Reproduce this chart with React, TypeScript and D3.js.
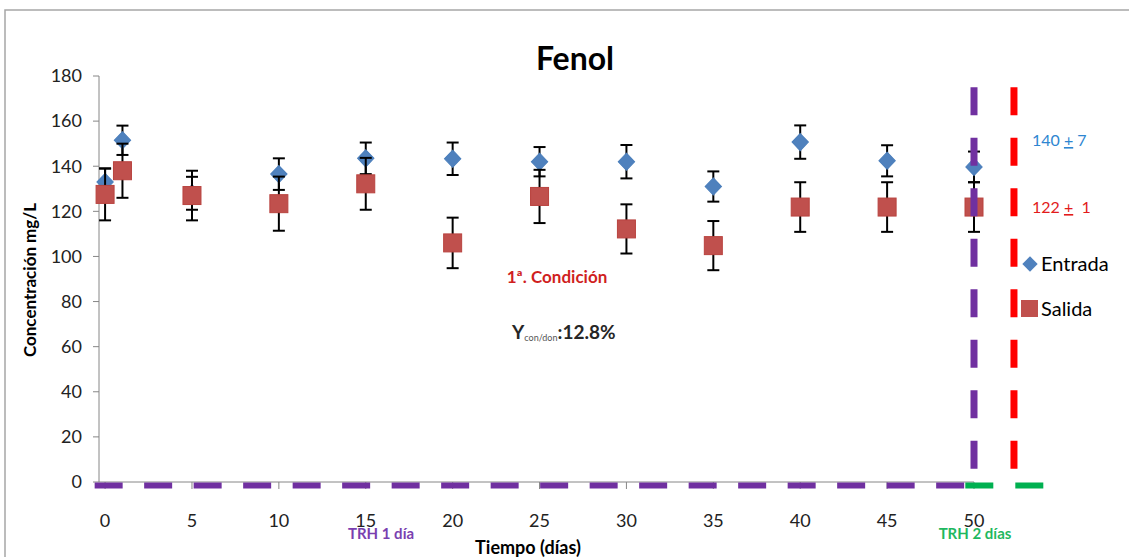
import React, { useEffect, useRef } from 'react';
import * as d3 from 'd3';

// data
const days = [0, 1, 5, 10, 15, 20, 25, 30, 35, 40, 45, 50];
const entrada = [133, 151.5, 128, 136.5, 143.5, 143.3, 142, 142, 131, 150.7, 142.4, 139.7];
const entradaErr = [6, 6.5, 7.3, 7, 7, 7.2, 6.5, 7.4, 6.7, 7.4, 6.9, 6.8];
const salida = [127.5, 138, 127, 123.4, 132.2, 106, 126.6, 112.2, 104.8, 121.9, 121.9, 121.9];
const salidaErr = [11.5, 12, 11, 12, 11.5, 11.2, 11.8, 10.9, 10.9, 11, 11, 11];

const xTicks = [0, 5, 10, 15, 20, 25, 30, 35, 40, 45, 50];
const yTicks = [0, 20, 40, 60, 80, 100, 120, 140, 160, 180];

// condition markers (TRH lines)
const trh1Line = [[-0.6, -1.6], [49.5, -1.6]];
const trh2Line = [[49.5, -1.6], [54, -1.6]];
const trh1Vertical = [[50, 1], [50, 175]];
const trh2Vertical = [[52.3, 1], [52.3, 175]];

const W = 1129;
const H = 557;
const FONT = 'Lato, "Open Sans", sans-serif';

export default function App() {
    const ref = useRef<SVGSVGElement>(null);

    useEffect(() => {
        const svg = d3.select(ref.current);
        svg.selectAll('*').remove();

        const x = d3.scaleLinear().domain([-0.35, 50]).range([99, 974]);
        const y = d3.scaleLinear().domain([0, 180]).range([482, 76]);

        // frame
        svg.append('rect')
            .attr('x', 5).attr('y', 10)
            .attr('width', W + 20).attr('height', H + 20)
            .attr('fill', '#fff')
            .attr('stroke', '#a6a6a6')
            .attr('stroke-width', 1.5);

        // title
        svg.append('text')
            .attr('x', 575).attr('y', 70)
            .attr('text-anchor', 'middle')
            .style('font', `bold 32px ${FONT}`)
            .attr('fill', '#000')
            .text('Fenol');

        // y axis
        const yAxis = svg.append('g');
        yAxis.append('line')
            .attr('x1', 99).attr('x2', 99)
            .attr('y1', y(180)).attr('y2', y(0))
            .attr('stroke', '#868686');
        yAxis.selectAll('.yt')
            .data(yTicks)
            .join('line')
            .attr('x1', 93).attr('x2', 99)
            .attr('y1', (d) => y(d)).attr('y2', (d) => y(d))
            .attr('stroke', '#868686');
        yAxis.selectAll('text')
            .data(yTicks)
            .join('text')
            .attr('x', 82).attr('y', (d) => y(d))
            .attr('dy', '0.35em')
            .attr('text-anchor', 'end')
            .style('font', `18px ${FONT}`)
            .attr('fill', '#222')
            .text((d) => d);

        // x axis
        const xAxis = svg.append('g');
        xAxis.append('line')
            .attr('x1', 99).attr('x2', x(50))
            .attr('y1', y(0)).attr('y2', y(0))
            .attr('stroke', '#868686');
        xAxis.selectAll('.xt')
            .data(xTicks)
            .join('line')
            .attr('x1', (d) => x(d)).attr('x2', (d) => x(d))
            .attr('y1', y(0)).attr('y2', y(0) + 7)
            .attr('stroke', '#868686');
        xAxis.selectAll('text')
            .data(xTicks)
            .join('text')
            .attr('x', (d) => x(d)).attr('y', 527)
            .attr('text-anchor', 'middle')
            .style('font', `18px ${FONT}`)
            .attr('fill', '#222')
            .text((d) => d);

        // axis titles
        svg.append('text')
            .attr('transform', 'translate(36,280) rotate(-90)')
            .attr('text-anchor', 'middle')
            .style('font', `bold 17px ${FONT}`)
            .attr('fill', '#000')
            .text('Concentración mg/L');
        svg.append('text')
            .attr('x', 528).attr('y', 554)
            .attr('text-anchor', 'middle')
            .style('font', `bold 18px ${FONT}`)
            .attr('fill', '#000')
            .text('Tiempo (días)');

        const line = d3.line().x((d) => x(d[0])).y((d) => y(d[1]));

        // error bars + markers
        const drawErr = (vals, errs) => {
            const g = svg.append('g').attr('stroke', '#000').attr('stroke-width', 2);
            days.forEach((d, i) => {
                const cx = x(d);
                const y0 = y(vals[i] - errs[i]);
                const y1 = y(vals[i] + errs[i]);
                g.append('line').attr('x1', cx).attr('x2', cx).attr('y1', y0).attr('y2', y1);
                g.append('line').attr('x1', cx - 6).attr('x2', cx + 6).attr('y1', y0).attr('y2', y0);
                g.append('line').attr('x1', cx - 6).attr('x2', cx + 6).attr('y1', y1).attr('y2', y1);
            });
        };

        drawErr(entrada, entradaErr);
        svg.append('g')
            .selectAll('path')
            .data(days)
            .join('path')
            .attr('d', d3.symbol(d3.symbolDiamond2, 170)())
            .attr('transform', (d, i) => `translate(${x(d)},${y(entrada[i])}) scale(1,1.05)`)
            .attr('fill', '#4f81bd')
            .attr('stroke', '#4a7ebb')
            .attr('stroke-width', 1);

        drawErr(salida, salidaErr);
        svg.append('g')
            .selectAll('rect')
            .data(days)
            .join('rect')
            .attr('x', (d) => x(d) - 9)
            .attr('y', (d, i) => y(salida[i]) - 9)
            .attr('width', 18).attr('height', 18)
            .attr('fill', '#c0504d')
            .attr('stroke', '#b9433f')
            .attr('stroke-width', 1);

        // TRH dashed lines
        svg.append('path')
            .attr('d', line(trh1Line))
            .attr('stroke', '#7030a0').attr('stroke-width', 6)
            .attr('stroke-dasharray', '28 21.5').attr('fill', 'none');
        svg.append('path')
            .attr('d', line(trh2Line))
            .attr('stroke', '#00b050').attr('stroke-width', 6)
            .attr('stroke-dasharray', '28 22').attr('fill', 'none');
        svg.append('path')
            .attr('d', line(trh1Vertical.slice().reverse()))
            .attr('stroke', '#7030a0').attr('stroke-width', 7)
            .attr('stroke-dasharray', '28 22.5').attr('fill', 'none');
        svg.append('path')
            .attr('d', line(trh2Vertical.slice().reverse()))
            .attr('stroke', '#ff0000').attr('stroke-width', 7)
            .attr('stroke-dasharray', '28 22.5').attr('fill', 'none');

        // annotations
        svg.append('text')
            .attr('x', 557).attr('y', 283)
            .attr('text-anchor', 'middle')
            .style('font', `bold 17px ${FONT}`)
            .attr('fill', '#d01f1f')
            .text('1ª. Condición');

        const yc = svg.append('text')
            .attr('x', 512).attr('y', 339)
            .style('font', `bold 19px ${FONT}`)
            .attr('fill', '#262626');
        yc.append('tspan').text('Y');
        yc.append('tspan').style('font', `9px ${FONT}`).attr('fill', '#555').attr('dy', 2).text('con/don');
        yc.append('tspan').attr('dy', -2).text(':12.8%');

        const mean1 = svg.append('text')
            .attr('x', 1032).attr('y', 146)
            .style('font', `16px ${FONT}`)
            .style('white-space', 'pre')
            .attr('fill', '#2e86d1');
        mean1.append('tspan').text('140 ');
        mean1.append('tspan').style('text-decoration', 'underline').text('+');
        mean1.append('tspan').text(' 7');

        const mean2 = svg.append('text')
            .attr('x', 1032).attr('y', 213)
            .style('font', `16px ${FONT}`)
            .style('white-space', 'pre')
            .attr('fill', '#e21b1b');
        mean2.append('tspan').text('122 ');
        mean2.append('tspan').style('text-decoration', 'underline').text('+');
        mean2.append('tspan').text('  1');

        // legend
        svg.append('path')
            .attr('d', d3.symbol(d3.symbolDiamond2, 150)())
            .attr('transform', 'translate(1030,264)')
            .attr('fill', '#4f81bd');
        svg.append('text')
            .attr('x', 1041).attr('y', 271)
            .style('font', `20px ${FONT}`)
            .attr('fill', '#000')
            .text('Entrada');
        svg.append('rect')
            .attr('x', 1021).attr('y', 300)
            .attr('width', 17).attr('height', 17)
            .attr('fill', '#c0504d');
        svg.append('text')
            .attr('x', 1041).attr('y', 316)
            .style('font', `20px ${FONT}`)
            .attr('fill', '#000')
            .text('Salida');

        // TRH labels
        svg.append('text')
            .attr('x', 381).attr('y', 539)
            .attr('text-anchor', 'middle')
            .style('font', `bold 15px ${FONT}`)
            .attr('fill', '#7a3fb0')
            .text('TRH 1 día');
        svg.append('text')
            .attr('x', 975).attr('y', 539)
            .attr('text-anchor', 'middle')
            .style('font', `bold 15px ${FONT}`)
            .attr('fill', '#1fb860')
            .text('TRH 2 días');
    }, []);

    return (
        <svg
            ref={ref}
            width={W}
            height={H}
            style={{ position: 'absolute', left: 0, top: 0, background: '#fff' }}
        />
    );
}
